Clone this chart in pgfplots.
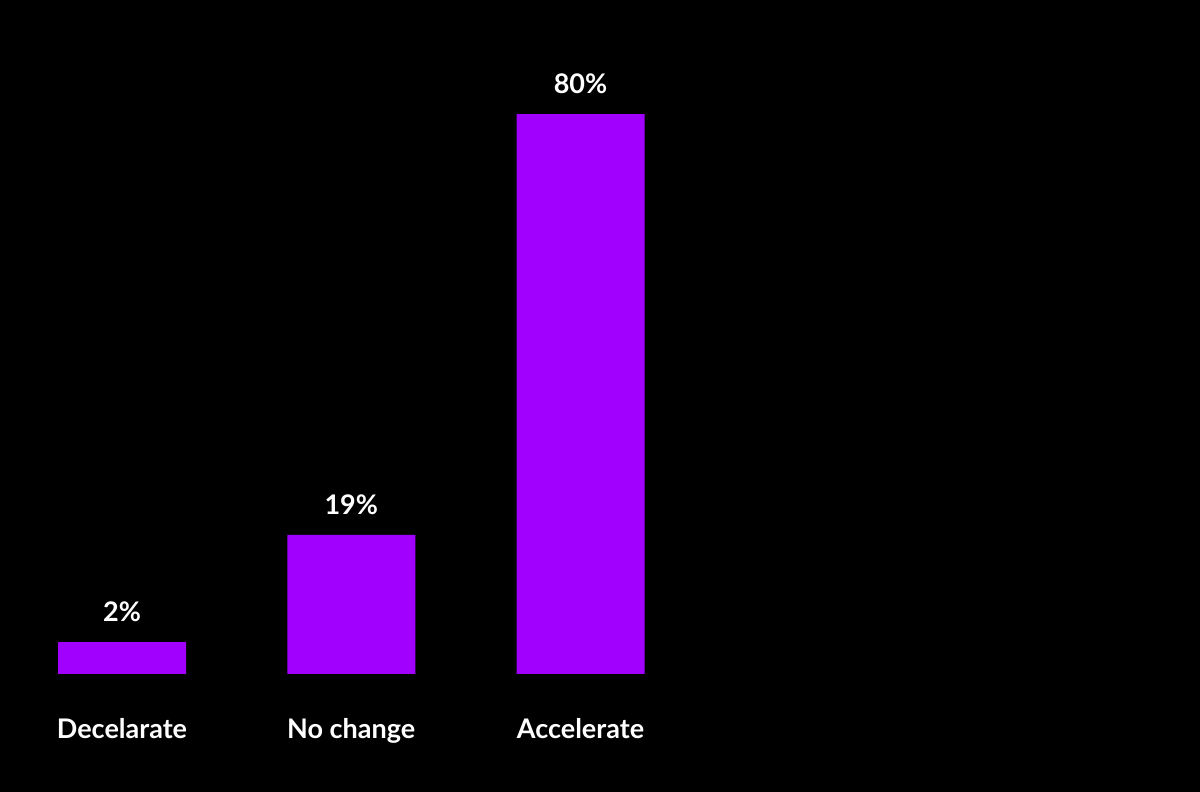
\documentclass[border=0pt]{standalone}
\usepackage{pgfplots}
\pgfplotsset{compat=1.18}
\usepackage{fontspec}
\setmainfont{Lato}
\definecolor{accpurple}{HTML}{A100FF}
\begin{document}
\begin{tikzpicture}
\fill[black] (0pt,-59pt) rectangle (600pt,337pt);
\begin{axis}[
  at={(0pt,0pt)}, anchor=south west,
  scale only axis,
  width=600pt, height=280pt,
  xmin=-0.5322, xmax=4.7023,
  ymin=0, ymax=80,
  axis x line*=bottom,
  axis y line=none,
  x axis line style={draw=none},
  tick style={draw=none},
  clip=false,
  xtick={0,1,2},
  xticklabels={Decelarate,No change,Accelerate},
  ytick=\empty,
  major tick length=0pt,
  xticklabel style={font=\fontsize{13.5}{16}\selectfont\bfseries, text=white, anchor=base, yshift=-32.5pt},
  ybar,
  bar width=64pt,
  bar shift=0pt,
  nodes near coords,
  point meta=explicit symbolic,
  every node near coord/.append style={font=\fontsize{13.5}{16}\selectfont\bfseries, text=white, anchor=center, yshift=15pt},
]
\addplot[fill=accpurple, draw=none] table[meta=label] {
x y label
0 4.57 2\%
1 19.86 19\%
2 80 80\%
};
\end{axis}
\end{tikzpicture}
\end{document}
